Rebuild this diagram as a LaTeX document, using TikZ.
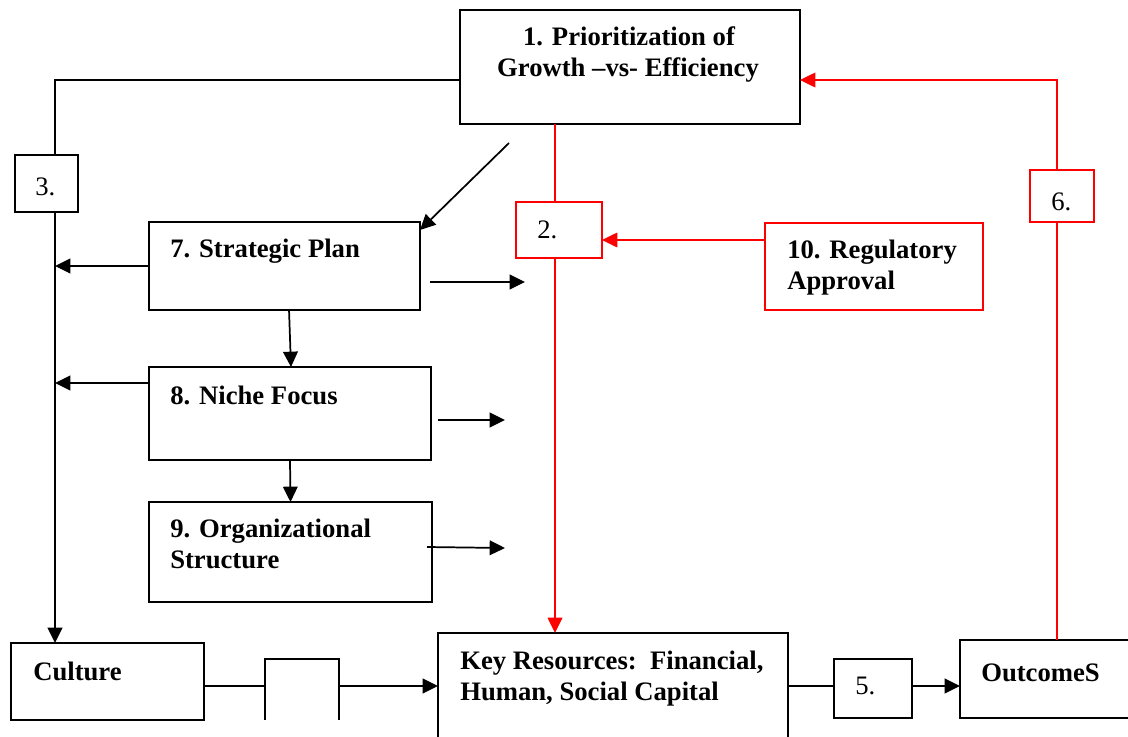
\documentclass[tikz,border=0pt]{standalone}
\usepackage{fontspec}
\setmainfont{Liberation Serif}
\usetikzlibrary{arrows.meta,fit,calc}
\begin{document}
\begin{tikzpicture}[x=0.75pt,y=-0.75pt,
  blk/.style={draw=black,line width=1.3pt,inner sep=0pt,outer sep=0pt},
  rbx/.style={draw=red,line width=1.1pt,inner sep=0pt,outer sep=0pt},
  blkline/.style={draw=black,line width=1.3pt},
  redline/.style={draw=red,line width=1.1pt},
  arr/.style={-{Triangle[length=11.5pt,width=11pt]}},
  lbl/.style={inner sep=0pt,font=\fontsize{20}{24}\selectfont\bfseries},
  num/.style={inner sep=0pt,font=\fontsize{20}{24}\selectfont}]
\useasboundingbox (0,0) rectangle (1128,736);
\clip (0,0) rectangle (1128,736);

% boxes
\node[blk,fit={(460,10)(800,124)}] (prio) {};
\node[blk,fit={(15,155)(78,212)}] (b3) {};
\node[rbx,fit={(516,202)(602,258)}] (b2) {};
\node[rbx,fit={(1030,170)(1094,222)}] (b6) {};
\node[blk,fit={(149,222)(420,310)}] (sp) {};
\node[rbx,fit={(765,223)(983,310)}] (reg) {};
\node[blk,fit={(149,367)(431,460)}] (nf) {};
\node[blk,fit={(149,502)(432,602)}] (os) {};
\node[blk,fit={(11,643)(204,720)}] (cult) {};
\node[inner sep=0pt,outer sep=0pt,fit={(265,659)(339,720)}] (b4) {};
\draw[blkline] (b4.south west) -- (b4.north west) -- (b4.north east) -- (b4.south east);
\node[blk,fit={(438,633)(788,760)}] (kr) {};
\node[blk,fit={(834,659)(912,718)}] (b5) {};
\node[blk,fit={(960,640)(1140,718)}] (out) {};

% texts
\node[lbl,anchor=base] (t1a) at (629,45) {1. Prioritization of};
\node[lbl,anchor=base] (t1b) at (628,76) {Growth –vs- Efficiency};
\node[lbl,anchor=base west] (t7) at (170,257) {7. Strategic Plan};
\node[lbl,anchor=base west] (t8) at (170,404) {8. Niche Focus};
\node[lbl,anchor=base west] (t9a) at (170,537) {9. Organizational};
\node[lbl,anchor=base west] (t9b) at (170,568) {Structure};
\node[lbl,anchor=base west] (t10a) at (787,258) {10. Regulatory};
\node[lbl,anchor=base west] (t10b) at (787,289) {Approval};
\node[lbl,anchor=base west] (tc) at (33,680) {Culture};
\node[lbl,anchor=base west] (tka) at (460,669) {Key Resources:\ \ Financial,};
\node[lbl,anchor=base west] (tkb) at (460,700) {Human, Social Capital};
\node[lbl,anchor=base west] (to) at (981,681) {OutcomeS};
\node[num,anchor=base west] (n2) at (537,238) {2.};
\node[num,anchor=base west] (n3) at (35,195) {3.};
\node[num,anchor=base west] (n5) at (855,694) {5.};
\node[num,anchor=base west] (n6) at (1051,210) {6.};

% helper coordinates
\coordinate (lx) at (55,0);
\coordinate (rx) at (555,0);
\coordinate (ox) at (1057,0);
\coordinate (y80) at (0,80);
\coordinate (y240) at (0,240);
\coordinate (y383) at (0,383);
\coordinate (y686) at (0,686);
\coordinate (dg) at (509,143);
\coordinate (spa) at (430,282);
\coordinate (spb) at (525,282);
\coordinate (nfa) at (438,420);
\coordinate (nfb) at (505,420);
\coordinate (osa) at (427,547);
\coordinate (osb) at (505,548);

% black connectors
\draw[blkline] (prio.west |- y80) -| (lx |- b3.north);
\draw[blkline,arr] (lx |- b3.south) -- (lx |- cult.north);
\draw[blkline,arr] (sp.west) -- (lx |- sp.west);
\draw[blkline,arr] (nf.west |- y383) -- (lx |- y383);
\draw[blkline,arr] (dg) -- ([yshift=-6pt]sp.north east);
\draw[blkline,arr] (spa) -- (spb);
\draw[blkline,arr] (nfa) -- (nfb);
\draw[blkline,arr] (osa) -- (osb);
\draw[blkline,arr] ([xshift=3.4pt]sp.south) -- ([xshift=0.75pt]nf.north);
\draw[blkline,arr] (nf.south) -- (os.north);
\draw[blkline] (cult.east |- y686) -- (b4.west |- y686);
\draw[blkline,arr] (b4.east |- y686) -- (kr.west |- y686);
\draw[blkline] (kr.east |- y686) -- (b5.west |- y686);
\draw[blkline,arr] (b5.east |- y686) -- (out.west |- y686);

% red connectors
\draw[redline] (rx |- prio.south) -- (rx |- b2.north);
\draw[redline,arr] (rx |- b2.south) -- (rx |- kr.north);
\draw[redline,arr] (reg.west |- y240) -- (b2.east |- y240);
\draw[redline] (ox |- out.north) -- (ox |- b6.south);
\draw[redline,arr] (ox |- b6.north) |- (prio.east |- y80);
\end{tikzpicture}
\end{document}
